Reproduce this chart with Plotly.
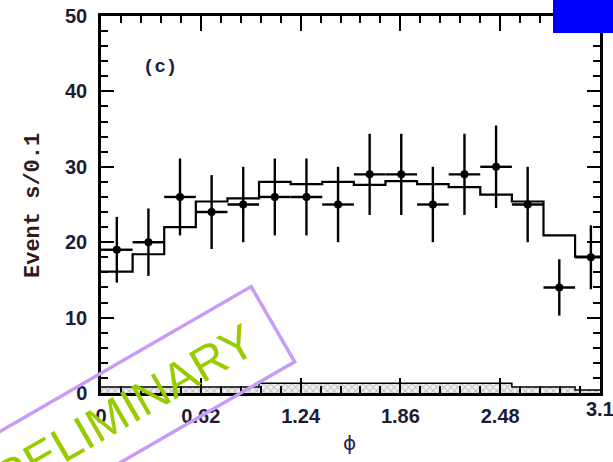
import numpy as np
import plotly.graph_objects as go

# Azimuthal angle distribution, 16 bins over [0, pi]
n_bins = 16
bin_edges = list(np.linspace(0, np.pi, n_bins + 1))
bin_centers = [(a + b) / 2 for a, b in zip(bin_edges[:-1], bin_edges[1:])]
half_width = [(b - a) / 2 for a, b in zip(bin_edges[:-1], bin_edges[1:])]

# Data counts per bin
data_counts = [19, 20, 26, 24, 25, 26, 26, 25, 29, 29, 25, 29, 30, 25, 14, 18]
data_errors = [float(np.sqrt(c)) for c in data_counts]

# Fitted / MC expectation per bin
mc_counts = [16.1, 18.4, 22.0, 25.4, 25.8, 28.0, 27.7, 28.0, 27.6, 28.1,
             27.7, 27.3, 26.3, 25.4, 20.9, 18.1]

# Background estimate per bin
bkg_counts = [0.8, 0.8, 0.8, 0.8, 0.8, 1.3, 1.3, 1.3, 1.3, 1.3,
              1.3, 1.3, 1.3, 0.8, 0.8, 0.4]

x_tick_vals = [0, 0.62, 1.24, 1.86, 2.48, 3.1]
x_tick_text = ["0", "0.62", "1.24", "1.86", "2.48", "3.1"]
y_tick_vals = [0, 10, 20, 30, 40, 50]

W, H = 613, 462
ML, MR, MT, MB = 101, 13, 16, 69
PW, PH = W - ML - MR, H - MT - MB


def px(xp):
    return (xp - ML) / PW


def py(yp):
    return (H - MB - yp) / PH


fig = go.Figure()

# background band (hatched)
fig.add_trace(go.Scatter(
    x=bin_edges, y=bkg_counts + [bkg_counts[-1]],
    mode="lines", line=dict(shape="hv", color="black", width=1.5),
    fill="tozeroy", fillcolor="#e6e6e6",
    fillpattern=dict(shape="x", size=5, solidity=0.35,
                     fgcolor="#8a8a8a", bgcolor="#f0f0f0"),
    hoverinfo="skip", showlegend=False,
))

# expectation histogram
fig.add_trace(go.Scatter(
    x=bin_edges, y=mc_counts + [mc_counts[-1]],
    mode="lines", line=dict(shape="hv", color="black", width=2.2),
    showlegend=False,
))

# data points with errors
fig.add_trace(go.Scatter(
    x=bin_centers, y=data_counts, mode="markers",
    marker=dict(color="black", size=8),
    error_y=dict(type="data", array=data_errors, color="black",
                 thickness=2.4, width=0),
    error_x=dict(type="data", array=half_width, color="black",
                 thickness=2.4, width=0),
    showlegend=False,
))

tick_font = dict(family="Liberation Sans", size=20,
                 color="#1c1c34", weight="bold")

fig.update_xaxes(
    range=[0, 3.1], tickvals=x_tick_vals[:-1], ticktext=x_tick_text[:-1],
    ticks="inside", ticklen=15, tickwidth=2, tickcolor="black",
    minor=dict(dtick=0.124, tick0=0, ticks="inside", ticklen=7,
               tickwidth=2, tickcolor="black"),
    showline=True, linewidth=2.5, linecolor="black", mirror="allticks",
    showgrid=False, zeroline=False, tickfont=tick_font,
    ticklabelstandoff=3, automargin=False,
)
fig.update_yaxes(
    range=[0, 50], tickvals=y_tick_vals,
    ticks="inside", ticklen=13, tickwidth=2, tickcolor="black",
    minor=dict(dtick=2, tick0=0, ticks="inside", ticklen=7,
               tickwidth=2, tickcolor="black"),
    showline=True, linewidth=2.5, linecolor="black", mirror="allticks",
    showgrid=False, zeroline=False, tickfont=tick_font,
    ticklabelstandoff=7, automargin=False,
)


def label(text, xp, yp, font, angle=0):
    return dict(text=text, x=px(xp), y=py(yp), xref="paper", yref="paper",
                xanchor="center", yanchor="middle", textangle=angle,
                showarrow=False, font=font)


annotations = [
    label("(c)", 160, 67, dict(family="Liberation Mono", size=19,
                               color="#1c1c3c", weight="bold")),
    label("Event s/0.1", 33, 206, dict(family="Liberation Mono", size=22,
                                       color="#301a1a", weight="bold"), -90),
    label("ϕ", 349, 443, dict(family="DejaVu Sans", size=20,
                              color="#2a2050")),
    # last tick label sits on the frame edge, so it is placed by hand
    dict(text=x_tick_text[-1], x=x_tick_vals[-1], xref="x", y=py(409),
         yref="paper", xanchor="center", yanchor="middle", showarrow=False,
         font=tick_font),
]

# PRELIMINARY stamp: rotated frame and text
ang = np.deg2rad(30)
u = np.array([np.cos(ang), -np.sin(ang)])
v = np.array([np.sin(ang), np.cos(ang)])
c = np.array([112.7, 416.7])
half_l, half_w = 185, 43.5
corners = [c + half_l * u - half_w * v, c + half_l * u + half_w * v,
           c - half_l * u + half_w * v, c - half_l * u - half_w * v]
path = "M " + " L ".join(f"{px(p[0]):.4f},{py(p[1]):.4f}" for p in corners) + " Z"

annotations.append(label("PRELIMINARY", c[0] - 2, c[1] + 1,
                         dict(family="Liberation Sans", size=48,
                              color="#99cc00"), -30))

shapes = [
    dict(type="path", path=path, xref="paper", yref="paper",
         line=dict(color="#c89cf4", width=3.5), layer="above"),
    dict(type="rect", xref="paper", yref="paper",
         x0=px(553), x1=px(620), y0=py(33), y1=py(-5),
         fillcolor="#0000ff", line=dict(width=0), layer="above"),
]

fig.update_layout(
    width=W, height=H,
    margin=dict(l=ML, r=MR, t=MT, b=MB, pad=0, autoexpand=False),
    paper_bgcolor="white", plot_bgcolor="white",
    annotations=annotations, shapes=shapes, showlegend=False,
)

fig.write_html("out.html")
